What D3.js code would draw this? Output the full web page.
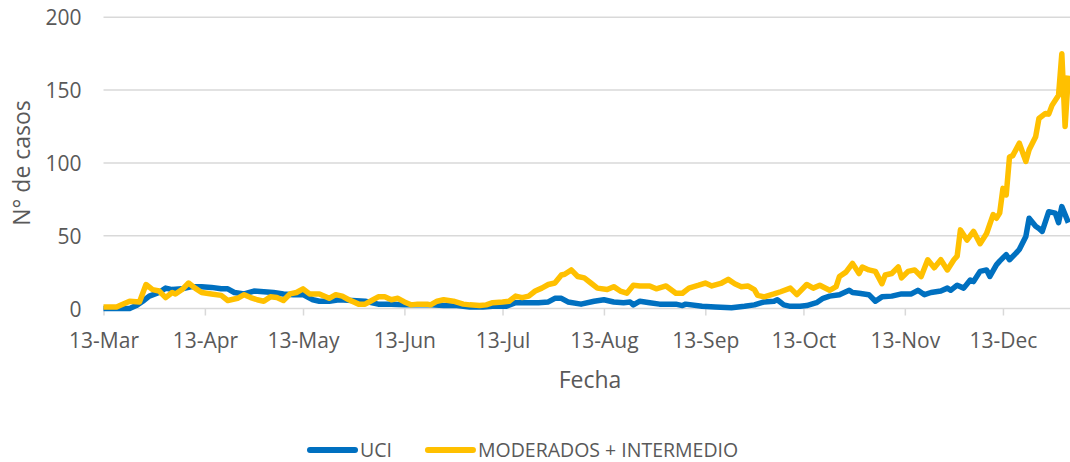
<!DOCTYPE html>
<html>
<head>
<meta charset="utf-8">
<script src="https://cdn.jsdelivr.net/npm/d3@7"></script>
<style>
  body { margin: 0; background: #fff; }
  text { font-family: "Open Sans", sans-serif; fill: #595959; }
</style>
</head>
<body>
<svg id="chart" width="1070" height="462"></svg>
<script>
// dias contados desde el 13-Mar-2020
const diasUCI = [0, 8, 10, 12, 14, 17, 19, 21, 24, 27, 30, 33, 36, 38, 40, 43, 46, 49, 52, 55,
  58, 61, 64, 66, 69, 72, 76, 80, 84, 88, 92, 96, 100, 104, 108, 112, 116, 119, 123, 126,
  130, 133, 136, 138, 140, 142, 146, 150, 153, 156, 159, 161, 162, 164, 167, 170, 175, 177, 178, 183,
  187, 192, 196, 199, 202, 205, 206, 208, 210, 213, 215, 218, 220, 222, 225, 226, 228, 229, 231, 234,
  236, 238, 241, 244, 247, 249, 251, 253, 256, 258, 259, 261, 263, 265, 266, 268, 270, 271, 273, 274,
  276, 277, 279, 280, 282, 283, 285, 286, 287, 289, 291, 292, 293, 295]
const uci = [0, 0, 2, 5, 8.5, 11, 14, 13, 13.5, 15, 15, 14.5, 13.5, 13.5, 11, 10, 12, 11.5, 11, 10,
  9.5, 9.5, 6, 5, 5, 6, 5.5, 5, 3, 3, 2.5, 2.5, 2.5, 2, 2, 1, 1, 1.5, 1.5, 4,
  4, 4, 4.5, 7, 7, 4.5, 3, 5, 6, 4.5, 4, 4.5, 2.5, 5, 4, 3, 3, 2, 3, 1.5,
  1, 0.5, 1.5, 2.5, 4.5, 5, 6, 2.5, 1.5, 1.5, 2, 4, 7, 8.5, 9.5, 10.5, 12.5, 11, 10.5, 9.5,
  5, 8, 8.5, 10, 10, 12.5, 9.5, 11, 12, 14, 12.5, 16, 14, 19.5, 18.5, 25.5, 26.5, 22, 30, 32.5,
  37, 33.5, 38, 40.5, 49.5, 62, 56.5, 55, 53, 66.5, 65.5, 59, 70, 59]

const diasModerados = [0, 4, 5, 8, 11, 13, 15, 17, 19, 21, 22, 24, 26, 28, 30, 33, 36, 38, 41, 43,
  45, 47, 49, 51, 53, 55, 57, 59, 61, 63, 66, 69, 71, 73, 75, 78, 80, 82, 84, 86,
  88, 90, 92, 94, 96, 99, 100, 102, 104, 107, 110, 112, 115, 117, 119, 122, 124, 126, 128, 130,
  132, 134, 136, 138, 140, 141, 143, 145, 147, 149, 151, 154, 156, 158, 160, 162, 164, 167, 169, 172,
  175, 177, 179, 182, 184, 186, 189, 191, 193, 195, 197, 199, 200, 202, 205, 207, 210, 212, 215, 217,
  219, 222, 224, 225, 227, 229, 231, 232, 234, 236, 238, 239, 241, 243, 244, 246, 248, 250, 252, 254,
  256, 258, 260, 261, 262, 264, 266, 268, 270, 272, 273, 274, 275, 276, 277, 278, 280, 282, 283, 285,
  286, 288, 289, 290, 292, 293, 294, 295]
const moderados = [1, 1, 2, 5, 4.5, 16.5, 13, 12, 7.5, 11, 10, 13, 17.5, 14, 11, 10, 9, 5.5, 7, 9.5,
  7.5, 6, 5, 8, 7.5, 5.5, 10, 11, 13.5, 10, 10, 7, 9.5, 8.5, 6, 3, 3, 5.5, 8, 8,
  6, 7, 4.5, 2.5, 3, 3, 2.5, 5, 6, 5, 3, 2.5, 2, 2.5, 4, 4.5, 5, 8.5, 7.5, 8.5,
  12, 14, 16.5, 17.5, 23, 23.5, 26.5, 22, 21, 17.5, 14, 13, 15, 12, 10.5, 16, 15.5, 15.5, 13.5, 15.5,
  10.5, 10.5, 14, 16, 17.5, 15.5, 17.5, 20, 17, 15, 15.5, 13, 9, 8, 10, 11.5, 14, 9.5, 16.5, 14,
  16, 12.5, 15, 22, 25, 31, 24, 28.5, 26.5, 25.5, 17, 23, 24, 28.5, 21, 25.5, 26.5, 22, 33.5, 28,
  33.5, 26.5, 33.5, 36, 54, 47, 53, 44.5, 51.5, 64.5, 62, 65.5, 82.5, 78, 104, 105, 113.5, 101, 109, 118,
  130.5, 134, 133.5, 139.5, 146.5, 175, 125, 160]

const ticksY = [0, 50, 100, 150, 200]
const mesesTicks = [2, 3, 4, 5, 6, 7, 8, 9, 10, 11] // dia 13 de cada mes, 2020

const series = [
  { nombre: "UCI", dias: diasUCI, valores: uci, color: "#0070C0" },
  { nombre: "MODERADOS + INTERMEDIO", dias: diasModerados, valores: moderados, color: "#FFC000" }
]

const inicio = new Date(Date.UTC(2020, 2, 13))
const svg = d3.select("#chart")

const x = d3.scaleUtc()
  .domain([inicio, new Date(Date.UTC(2021, 0, 2, 12))])
  .range([103.5, 1070])

const y = d3.scaleLinear()
  .domain([0, 200])
  .range([308.5, 17.3])

// rejilla horizontal
svg.append("g")
  .selectAll("line")
  .data(ticksY)
  .join("line")
  .attr("x1", x.range()[0])
  .attr("x2", x.range()[1])
  .attr("y1", d => y(d))
  .attr("y2", d => y(d))
  .attr("stroke", "#D9D9D9")
  .attr("stroke-width", 1.5)

// eje y
const ejeY = svg.append("g")
  .attr("transform", "translate(" + (x.range()[0] - 22) + ",0)")
  .call(d3.axisLeft(y).tickValues(ticksY).tickSize(0).tickPadding(0))
ejeY.select(".domain").remove()
ejeY.selectAll("text")
  .attr("font-size", 21)
  .attr("font-family", null)
  .attr("dy", "0.36em")

// eje x
const ticksX = mesesTicks.map(m => new Date(Date.UTC(2020, m, 13)))
const ejeX = svg.append("g")
  .attr("transform", "translate(0," + y(0) + ")")
  .call(d3.axisBottom(x).tickValues(ticksX).tickFormat(d3.utcFormat("%d-%b")).tickSize(7).tickPadding(18))
ejeX.select(".domain").remove()
ejeX.selectAll("line").attr("stroke", "#D9D9D9").attr("stroke-width", 1.5)
ejeX.selectAll("text")
  .attr("font-size", 21)
  .attr("font-family", null)

// lineas
const linea = d3.line()
  .x(d => x(d3.utcDay.offset(inicio, d[0])))
  .y(d => y(d[1]))

svg.append("g")
  .selectAll("path")
  .data(series)
  .join("path")
  .attr("d", s => linea(s.dias.map((d, i) => [d, s.valores[i]])))
  .attr("fill", "none")
  .attr("stroke", s => s.color)
  .attr("stroke-width", 5.5)
  .attr("stroke-linejoin", "round")

// titulos de ejes
svg.append("text")
  .attr("x", 590)
  .attr("y", 388)
  .attr("text-anchor", "middle")
  .attr("font-size", 23)
  .text("Fecha")

svg.append("text")
  .attr("transform", "translate(30,163) rotate(-90)")
  .attr("text-anchor", "middle")
  .attr("font-size", 23)
  .text("N° de casos")

// leyenda
const leyenda = svg.append("g").attr("transform", "translate(307,450)")
let pos = 0
series.forEach(s => {
  leyenda.append("line")
    .attr("x1", pos + 3)
    .attr("x2", pos + 48)
    .attr("stroke", s.color)
    .attr("stroke-width", 6)
    .attr("stroke-linecap", "round")
  const t = leyenda.append("text")
    .attr("x", pos + 53)
    .attr("y", 7)
    .attr("font-size", 19.5)
    .text(s.nombre)
  pos += 53 + t.node().getComputedTextLength() + 33
})
</script>
</body>
</html>
